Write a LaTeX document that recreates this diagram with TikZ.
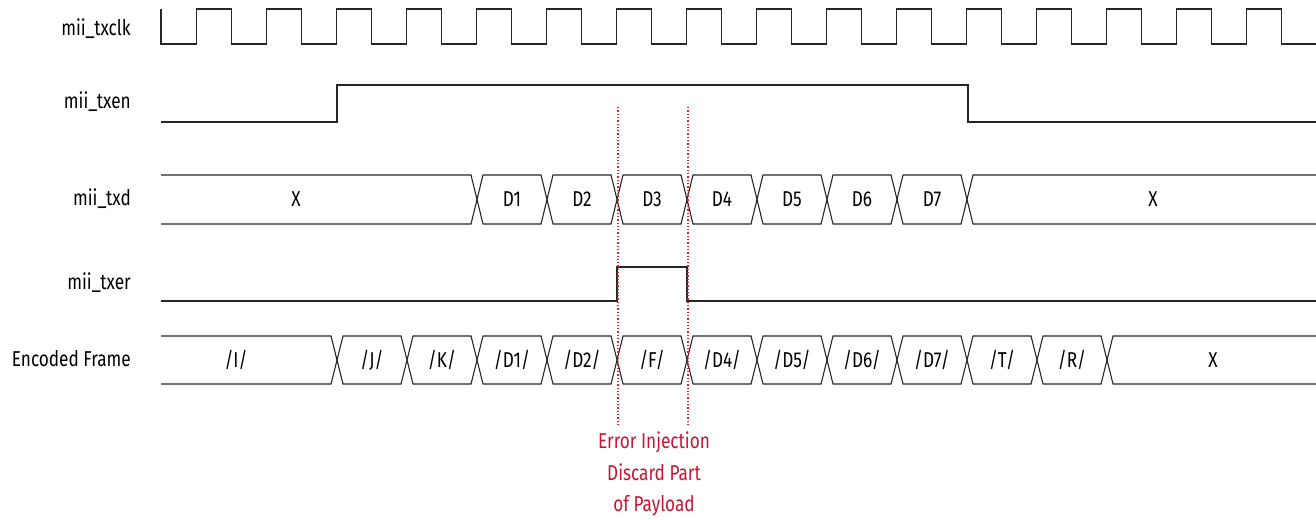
\documentclass[tikz,border=0pt]{standalone}
\usepackage{fontspec}
\setmainfont[FakeStretch=0.8]{Fira Sans}
\definecolor{errred}{RGB}{200,20,50}
\definecolor{dotred}{RGB}{228,30,40}
\begin{document}
\begin{tikzpicture}[x=1pt,y=-1pt,
  sig/.style={line width=1.1pt,draw=black!85,line join=miter},
  lbl/.style={anchor=east,font=\fontsize{21.5}{24}\selectfont,inner sep=0pt},
  val/.style={font=\fontsize{21.5}{24}\selectfont,inner sep=0pt},
  marker/.style={draw=dotred,line width=1.3pt,dotted},
  note/.style={font=\fontsize{21.5}{31.5}\selectfont,text=errred,align=center,inner sep=0pt}]
\useasboundingbox (0,0) rectangle (1316,519);
% labels
\node[lbl] (lclk) at (131,29) {mii\_txclk};
\node[lbl] (len) at (131,102) {mii\_txen};
\node[lbl] (ltxd) at (131,199) {mii\_txd};
\node[lbl] (lter) at (131,283) {mii\_txer};
\node[lbl] (lenc) at (131,359) {Encoded Frame};
% clock
\draw[sig] (161,9) -- (161,44)
  foreach \k in {0,...,15} { -- ({196.5+70*\k},44) -- ({196.5+70*\k},9) -- ({231.5+70*\k},9) -- ({231.5+70*\k},44) }
  -- (1316,44);
% txen
\draw[sig] (161,122) -- (337,122) -- (337,85) -- (968,85) -- (968,122) -- (1316,122);
% txer
\draw[sig] (161,301) -- (617,301) -- (617,267) -- (687,267) -- (687,301) -- (1316,301);
% txd bus
\def\h{6}
\draw[sig] (161,175) -- (477-\h,175) -- (477,199.5) -- (477-\h,224) -- (161,224);
\foreach \k in {0,...,6}{
  \pgfmathsetmacro\a{477+70*\k}\pgfmathsetmacro\b{547+70*\k}
  \draw[sig] (\a,199.5) -- (\a+\h,175) -- (\b-\h,175) -- (\b,199.5) -- (\b-\h,224) -- (\a+\h,224) -- cycle;
}
\draw[sig] (1316,175) -- (967+\h,175) -- (967,199.5) -- (967+\h,224) -- (1316,224);
\node[val] (dx1) at (296,199.5) {X};
\node[val] (d1) at (512,199.5) {D1};
\node[val] (d2) at (582,199.5) {D2};
\node[val] (d3) at (652,199.5) {D3};
\node[val] (d4) at (722,199.5) {D4};
\node[val] (d5) at (792,199.5) {D5};
\node[val] (d6) at (862,199.5) {D6};
\node[val] (d7) at (932,199.5) {D7};
\node[val] (dx2) at (1153,199.5) {X};
% encoded bus
\draw[sig] (161,336) -- (337-\h,336) -- (337,360) -- (337-\h,384) -- (161,384);
\foreach \k in {0,...,10}{
  \pgfmathsetmacro\a{337+70*\k}\pgfmathsetmacro\b{407+70*\k}
  \draw[sig] (\a,360) -- (\a+\h,336) -- (\b-\h,336) -- (\b,360) -- (\b-\h,384) -- (\a+\h,384) -- cycle;
}
\draw[sig] (1316,336) -- (1107+\h,336) -- (1107,360) -- (1107+\h,384) -- (1316,384);
\node[val] (ei) at (236,360) {/I/};
\node[val] (ej) at (372,360) {/J/};
\node[val] (ek) at (442,360) {/K/};
\node[val] (ed1) at (512,360) {/D1/};
\node[val] (ed2) at (582,360) {/D2/};
\node[val] (ef) at (652,360) {/F/};
\node[val] (ed4) at (722,360) {/D4/};
\node[val] (ed5) at (792,360) {/D5/};
\node[val] (ed6) at (862,360) {/D6/};
\node[val] (ed7) at (932,360) {/D7/};
\node[val] (et) at (1002,360) {/T/};
\node[val] (er) at (1072,360) {/R/};
\node[val] (ex) at (1213,360) {X};
% markers
\coordinate (m1t) at (618,107);
\coordinate (m1b) at (618,425);
\coordinate (m2t) at (688,107);
\coordinate (m2b) at (688,425);
\draw[marker] (m1t) -- (m1b);
\draw[marker] (m2t) -- (m2b);
\node[note] (note) at (654,474) {Error Injection\\Discard Part\\of Payload};
\end{tikzpicture}
\end{document}
